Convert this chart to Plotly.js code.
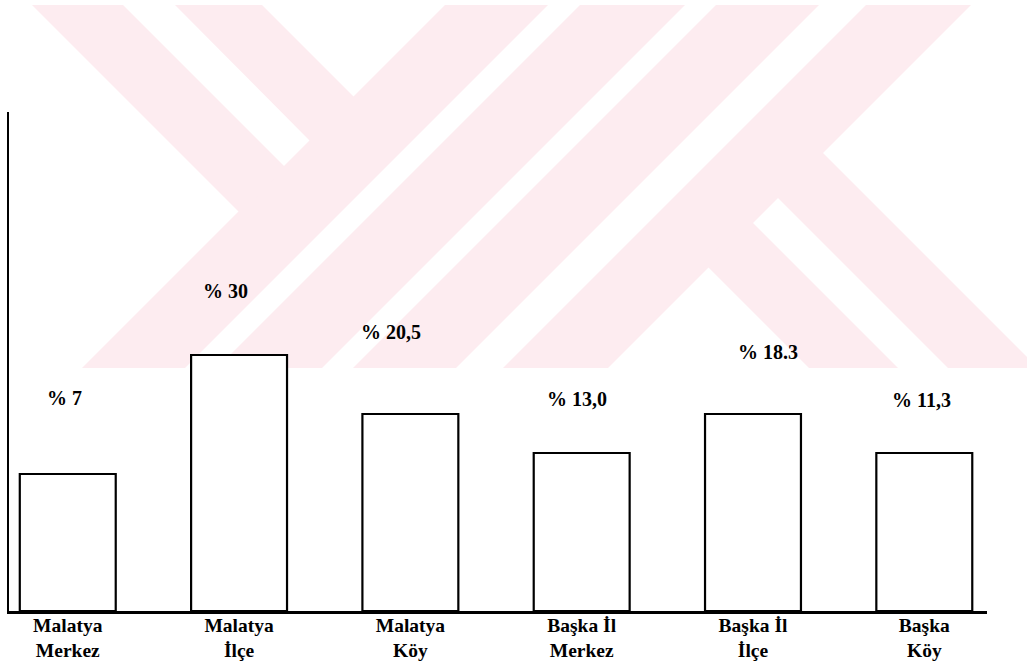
<!DOCTYPE html>
<html>
<head>
<meta charset="utf-8">
<script src="https://cdn.plot.ly/plotly-3.0.1.min.js"></script>
<style>html,body{margin:0;padding:0;background:#fff;}#chart{width:1027px;height:671px;}</style>
</head>
<body>
<div id="chart"></div>
<script>
// Categories (Turkish, as in the original)
const categories = ["Malatya Merkez", "Malatya İlçe", "Malatya Köy", "Başka İl Merkez", "Başka İl İlçe", "Başka Köy"];
const tickLabels = ["Malatya<br>Merkez", "Malatya<br>İlçe", "Malatya<br>Köy", "Başka İl<br>Merkez", "Başka İl<br>İlçe", "Başka<br>Köy"];
// Percent labels printed above the bars
const percentLabels = ["% 7", "% 30", "% 20,5", "% 13,0", "% 18.3", "% 11,3"];
// Drawn bar heights (relative units; the drawing is not proportional to the labels)
const barHeights = [13.7, 25.6, 19.7, 15.8, 19.7, 15.8];
// Vertical placement of the percent labels (same relative units) and horizontal nudge
const labelLevels = [21.3, 32.0, 27.9, 21.2, 25.9, 21.1];
const labelShift = [-3, -14, -19, -5, 15, -3];

const M = {l: 9, r: 40, t: 112, b: 60};
const W = 1027, H = 671;
const PW = W - M.l - M.r, PH = H - M.t - M.b;
function px(x) { return ((x - M.l) / PW).toFixed(5); }
function py(y) { return (1 - (y - M.t) / PH).toFixed(5); }
function poly(pts) {
  return pts.map((p, i) => (i ? 'L' : 'M') + px(p[0]) + ',' + py(p[1])).join(' ') + ' Z';
}
const Y0 = 5, Y1 = 368;
function downLeft(c1, c2) { // band between lines x+y=c1 and x+y=c2
  return [[c1 - Y0, Y0], [c2 - Y0, Y0], [c2 - Y1, Y1], [c1 - Y1, Y1]];
}
const pink = 'rgb(253,236,240)';
const wm = [
  downLeft(450, 553),
  downLeft(585, 690),
  downLeft(721, 824),
  downLeft(871, 976),
  [[32, 5], [123, 5], [286, 168], [240, 213]],
  [[175, 5], [262, 5], [356, 99], [312, 143]],
  [[748, 218], [898, 368], [809, 368], [703, 262]],
  [[818, 148], [1027, 357], [1027, 368], [948, 368], [773, 193]]
];
const shapes = wm.map(p => ({
  type: 'path', xref: 'paper', yref: 'paper', path: poly(p),
  fillcolor: pink, line: {width: 0}, layer: 'below'
}));

const tickFont = {family: 'Liberation Serif, Times New Roman, serif', size: 19.5, color: '#000', weight: 'bold'};
const labelFont = {family: 'Liberation Serif, Times New Roman, serif', size: 20, color: '#000', weight: 'bold'};

const trace = {
  type: 'bar',
  x: categories,
  y: barHeights,
  width: 0.56,
  marker: {color: '#ffffff', line: {color: '#000', width: 2.2}},
  hoverinfo: 'skip'
};

const annotations = categories.map((c, i) => ({
  x: c, y: labelLevels[i], xref: 'x', yref: 'y',
  text: percentLabels[i], showarrow: false, xshift: labelShift[i],
  font: labelFont, xanchor: 'center', yanchor: 'middle'
}));

const layout = {
  width: W, height: H,
  margin: M,
  paper_bgcolor: '#ffffff', plot_bgcolor: 'rgba(0,0,0,0)',
  showlegend: false,
  xaxis: {
    type: 'category', range: [-0.343, 5.366],
    tickvals: categories, ticktext: tickLabels,
    ticks: '', showgrid: false, zeroline: false,
    showline: true, linecolor: '#000', linewidth: 2.5,
    tickfont: tickFont, ticklabelstandoff: -5
  },
  yaxis: {
    range: [0, 49.9], showgrid: false, zeroline: false,
    showticklabels: false, ticks: '',
    showline: true, linecolor: '#000', linewidth: 2.5
  },
  shapes: shapes,
  annotations: annotations
};

Plotly.newPlot('chart', [trace], layout, {displayModeBar: false, staticPlot: true});
</script>
</body>
</html>
